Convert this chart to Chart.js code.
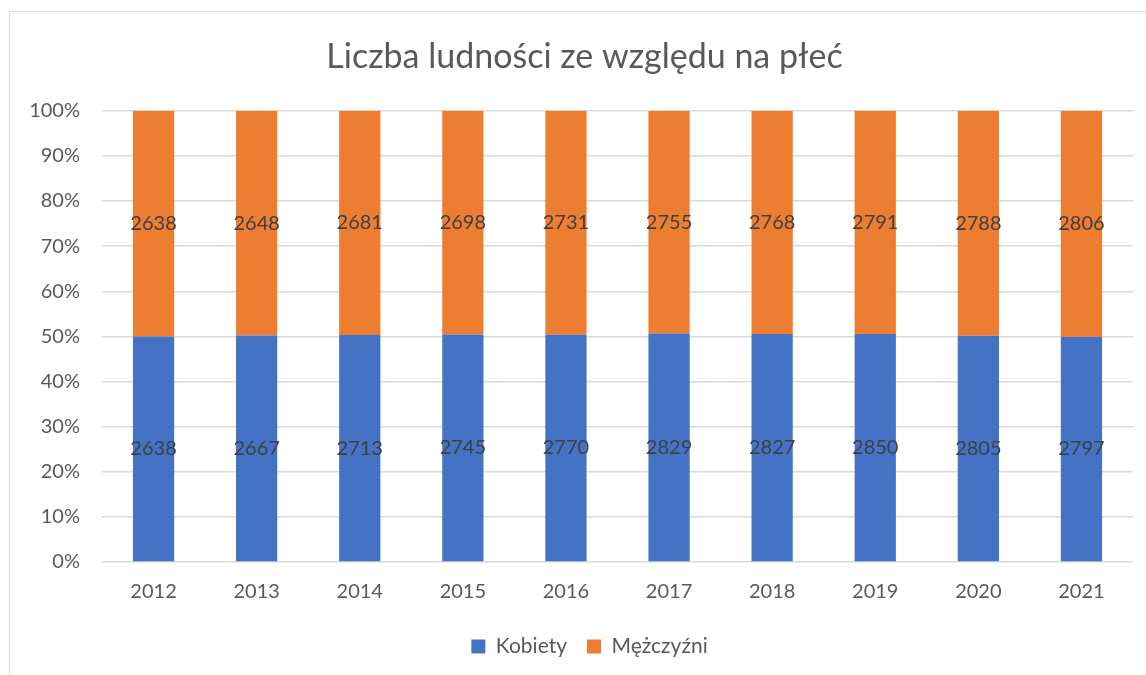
<!DOCTYPE html>
<html>
<head>
<meta charset="utf-8">
<script src="https://cdn.jsdelivr.net/npm/chart.js@4"></script>
<style>
  html, body { margin: 0; padding: 0; background: #fff; overflow: hidden; }
  #wrap { position: relative; width: 1146px; height: 675px; }
  #frame { position: absolute; left: 9px; top: 11px; width: 1200px; height: 700px; border: 1px solid #d9d9d9; }
  canvas { position: absolute; left: 0; top: 0; }
</style>
</head>
<body>
<div id="wrap">
  <div id="frame"></div>
  <canvas id="chart" width="1146" height="675"></canvas>
</div>
<script>
const years = ["2012", "2013", "2014", "2015", "2016", "2017", "2018", "2019", "2020", "2021"];
const kobiety = [2638, 2667, 2713, 2745, 2770, 2829, 2827, 2850, 2805, 2797];
const mezczyzni = [2638, 2648, 2681, 2698, 2731, 2755, 2768, 2791, 2788, 2806];

// 100% stacked: share of each group in the yearly total
const total = years.map((y, i) => kobiety[i] + mezczyzni[i]);
const kobietyPct = kobiety.map((v, i) => v / total[i] * 100);
const mezczyzniPct = mezczyzni.map((v, i) => v / total[i] * 100);

const fontFamily = "Lato, 'Open Sans', sans-serif";

// write the raw counts in the middle of each bar segment
const valueLabels = {
  id: "valueLabels",
  afterDatasetsDraw(chart) {
    const ctx = chart.ctx;
    ctx.save();
    ctx.font = "20px " + fontFamily;
    ctx.fillStyle = "#404040";
    ctx.textAlign = "center";
    ctx.textBaseline = "middle";
    chart.data.datasets.forEach((ds, di) => {
      const meta = chart.getDatasetMeta(di);
      meta.data.forEach((bar, i) => {
        ctx.fillText(String(ds.raw[i]), bar.x, (bar.y + bar.base) / 2);
      });
    });
    ctx.restore();
  }
};

// title and legend sit a bit right of the canvas centre in the original
const shiftBlocks = {
  id: "shiftBlocks",
  afterLayout(chart) {
    chart.titleBlock.left += 18;
    chart.titleBlock.right += 18;
    chart.legend.left += 23;
    chart.legend.right += 23;
  }
};

new Chart(document.getElementById("chart").getContext("2d"), {
  type: "bar",
  data: {
    labels: years,
    datasets: [
      {
        label: "Kobiety",
        data: kobietyPct,
        raw: kobiety,
        backgroundColor: "#4472C4",
        barPercentage: 0.4,
        categoryPercentage: 1
      },
      {
        label: "Mężczyźni",
        data: mezczyzniPct,
        raw: mezczyzni,
        backgroundColor: "#ED7D31",
        barPercentage: 0.4,
        categoryPercentage: 1
      }
    ]
  },
  options: {
    responsive: false,
    animation: false,
    layout: { padding: { left: 0, right: 13, top: 0, bottom: 8 } },
    plugins: {
      title: {
        display: true,
        text: "Liczba ludności ze względu na płeć",
        color: "#595959",
        font: { family: fontFamily, size: 34, weight: "normal" },
        padding: { top: 37, bottom: 33 }
      },
      legend: {
        position: "bottom",
        labels: {
          color: "#595959",
          font: { family: fontFamily, size: 21 },
          boxWidth: 14,
          boxHeight: 14,
          padding: 20
        }
      },
      tooltip: { enabled: false }
    },
    scales: {
      x: {
        stacked: true,
        grid: { display: false },
        border: { display: false },
        ticks: { color: "#595959", font: { family: fontFamily, size: 20 }, padding: 10 },
        afterFit(scale) { scale.height += 2; }
      },
      y: {
        stacked: true,
        min: 0,
        max: 100,
        grid: { color: "#d9d9d9", lineWidth: 1.5, drawTicks: false },
        border: { display: false },
        ticks: {
          stepSize: 10,
          color: "#595959",
          font: { family: fontFamily, size: 20 },
          padding: 22,
          callback: v => v + "%"
        },
        afterFit(scale) { scale.width = 102; }
      }
    }
  },
  plugins: [valueLabels, shiftBlocks]
});
</script>
</body>
</html>
